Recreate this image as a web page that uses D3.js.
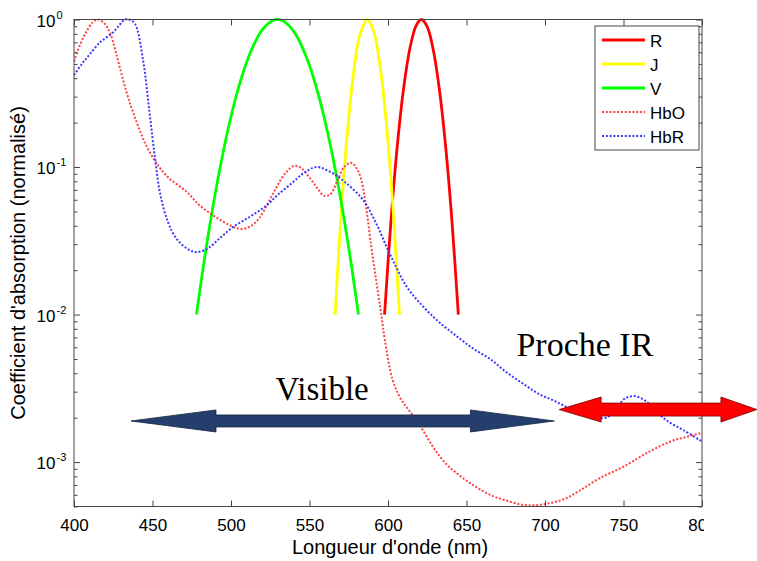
<!DOCTYPE html>
<html><head><meta charset="utf-8">
<script src="https://cdn.jsdelivr.net/npm/d3@7"></script>
<style>body{margin:0;background:#fff}svg{display:block}</style>
</head><body><svg id="c" width="757" height="561"></svg>
<script>
// ---------- data ----------
const wavelengthTicks = [400, 450, 500, 550, 600, 650, 700, 750, 800];
const decadeTicks = [1e-3, 1e-2, 1e-1, 1];
const decadeExponents = ["-3", "-2", "-1", "0"];
const seriesNames = ["R", "J", "V", "HbO", "HbR"];

const R = [[597.8,0.01],[602,0.0448],[606,0.142],[610,0.345],[614,0.641],[618,0.913],[621.3,1.0],[625,0.892],[629,0.61],[633,0.319],[637,0.128],[641,0.0393],[644.8,0.01]];
const J = [[566.3,0.01],[570,0.0454],[574,0.166],[578,0.428],[582,0.777],[586.8,1.0],[591,0.824],[595,0.479],[599,0.196],[603,0.0564],[607.3,0.01]];
const V = [[478,0.01],[485,0.0321],[492,0.0867],[499,0.198],[506,0.382],[513,0.621],[520,0.853],[527,0.988],[530,1.0],[534,0.967],[541,0.799],[548,0.557],[555,0.328],[562,0.163],[569,0.0683],[575,0.0283],[581.2,0.01]];
const HbO = [[400,0.52],[404,0.68],[408,0.83],[412,0.96],[415,1.0],[419,0.95],[423,0.81],[427,0.58],[433.5,0.32],[440,0.2],[446,0.14],[452.6,0.106],[460,0.085],[471.7,0.068],[480,0.055],[490,0.046],[500,0.04],[507,0.038],[513,0.04],[518,0.045],[524,0.058],[529,0.073],[535,0.092],[540.5,0.102],[545,0.098],[550,0.085],[555,0.072],[559,0.064],[563,0.065],[568,0.082],[572,0.1],[576.5,0.107],[580,0.098],[583,0.082],[586,0.054],[589.3,0.029],[592.5,0.017],[595.6,0.0102],[598,0.0067],[603,0.0036],[608,0.0027],[614,0.0022],[620,0.0018],[628,0.0013],[636,0.001],[645,0.00082],[655,0.00069],[665,0.0006],[675,0.00055],[688,0.00051],[700,0.00052],[712,0.00056],[722,0.00064],[735,0.00078],[750,0.00093],[766,0.00117],[780,0.00138],[790,0.00148],[800,0.00158]];
const HbR = [[400,0.42],[405,0.5],[410,0.58],[416.5,0.7],[421,0.76],[425,0.82],[429,0.92],[432.4,1.0],[436,0.99],[439,0.93],[444,0.53],[448,0.24],[451.5,0.117],[455,0.065],[460,0.042],[465,0.033],[472,0.028],[478,0.0265],[485,0.028],[493,0.033],[501,0.039],[512,0.046],[522.7,0.055],[530,0.065],[539.5,0.079],[547,0.092],[554.5,0.1],[563,0.093],[572,0.08],[584,0.06],[592.5,0.0414],[601,0.026],[612,0.0154],[622.5,0.0113],[633,0.0088],[644,0.0071],[654,0.0059],[665,0.005],[675,0.0041],[686,0.0034],[696,0.0029],[706,0.0026],[716,0.0023],[726,0.0021],[739,0.002],[745,0.0023],[751,0.0027],[757,0.0028],[764,0.0026],[771,0.0022],[778,0.0019],[788,0.00165],[800,0.00138]];

// annotation arrows in data units: [from nm, to nm, level]
const visibleArrow = [436.3, 706, 0.0019];
const irArrow = [709, 835, 0.00227];
const visibleLabel = [558, 0.00263, "Visible"];
const irLabel = [725.4, 0.00523, "Proche IR"];

// ---------- layout ----------
const W = 757, H = 561;
const plot = {left: 74, right: 702, top: 19.5, bottom: 506.5};
const svg = d3.select("#c");
svg.append("rect").attr("width", W).attr("height", H).attr("fill", "#fff");

const x = d3.scaleLinear().domain([400, 800]).range([plot.left, plot.right]);
const y = d3.scaleLog().domain([5e-4, 1]).range([plot.bottom, plot.top]);

const defs = svg.append("defs");
defs.append("clipPath").attr("id", "figclip").append("rect").attr("x", 0).attr("y", 0).attr("width", 704).attr("height", H);
defs.append("clipPath").attr("id", "plotclip").append("rect")
  .attr("x", plot.left).attr("y", plot.top - 2).attr("width", plot.right - plot.left).attr("height", plot.bottom - plot.top + 2);

const fig = svg.append("g").attr("clip-path", "url(#figclip)");
const axisColor = "#444";
const sans = "'Liberation Sans', Arial, Helvetica, sans-serif";

// curves
const colors = {R: "#ff0000", J: "#ffff00", V: "#00ff00", HbO: "#ff4040", HbR: "#3a3aff"};
const dataBy = {R, J, V, HbO, HbR};
const line = d3.line().x(d => x(d[0])).y(d => y(d[1])).curve(d3.curveCatmullRom.alpha(0.5));
const curves = fig.append("g").attr("clip-path", "url(#plotclip)");
seriesNames.forEach(n => {
  const dotted = (n === "HbO" || n === "HbR");
  curves.append("path").datum(dataBy[n])
    .attr("d", line).attr("fill", "none")
    .attr("stroke", colors[n])
    .attr("stroke-width", dotted ? 2 : 2.8)
    .attr("stroke-dasharray", dotted ? "2,1.8" : null)
    .attr("stroke-linejoin", "round");
});

// axes
function styleAxis(g) {
  g.select(".domain").remove();
  g.selectAll("line").attr("stroke", axisColor);
}
const minorTicks = [];
[1e-4, 1e-3, 1e-2, 1e-1].forEach(d => { for (let k = 2; k <= 9; k++) { const v = d * k; if (v >= 5e-4 && v < 1) minorTicks.push(v); } });

fig.append("g").attr("transform", `translate(0,${plot.bottom})`)
  .call(d3.axisBottom(x).tickValues(wavelengthTicks).tickSizeInner(-6).tickSizeOuter(0).tickPadding(12).tickFormat(d3.format("d")))
  .call(styleAxis)
  .call(g => g.selectAll("text").attr("font-family", sans).attr("font-size", 17).attr("fill", "#000"));
fig.append("g").attr("transform", `translate(0,${plot.top})`)
  .call(d3.axisTop(x).tickValues(wavelengthTicks).tickSizeInner(-6).tickSizeOuter(0).tickFormat(""))
  .call(styleAxis);
fig.append("g").attr("transform", `translate(${plot.left},0)`)
  .call(d3.axisLeft(y).tickValues(decadeTicks).tickSizeInner(-6).tickSizeOuter(0).tickFormat(""))
  .call(styleAxis);
fig.append("g").attr("transform", `translate(${plot.left},0)`)
  .call(d3.axisLeft(y).tickValues(minorTicks).tickSizeInner(-3.5).tickSizeOuter(0).tickFormat(""))
  .call(styleAxis);
fig.append("g").attr("transform", `translate(${plot.right},0)`)
  .call(d3.axisRight(y).tickValues(decadeTicks).tickSizeInner(-6).tickSizeOuter(0).tickFormat(""))
  .call(styleAxis);
fig.append("g").attr("transform", `translate(${plot.right},0)`)
  .call(d3.axisRight(y).tickValues(minorTicks).tickSizeInner(-3.5).tickSizeOuter(0).tickFormat(""))
  .call(styleAxis);

// frame
fig.append("rect").attr("x", plot.left).attr("y", plot.top)
  .attr("width", plot.right - plot.left).attr("height", plot.bottom - plot.top)
  .attr("fill", "none").attr("stroke", axisColor).attr("stroke-width", 1);

// y tick labels with superscripts
decadeTicks.forEach((v, i) => {
  fig.append("text").attr("font-family", sans).attr("fill", "#000").attr("font-size", 17)
    .attr("x", 55.5).attr("y", y(v) + 7).attr("text-anchor", "end").text("10");
  fig.append("text").attr("font-family", sans).attr("fill", "#000").attr("font-size", 11)
    .attr("x", 56.5).attr("y", y(v) - 1).text(decadeExponents[i]);
});

// axis titles
fig.append("text").attr("x", (plot.left + plot.right) / 2 + 2).attr("y", 554)
  .attr("text-anchor", "middle").attr("font-family", sans).attr("font-size", 20).text("Longueur d'onde (nm)");
fig.append("text").attr("transform", `translate(25,${(plot.top + plot.bottom) / 2}) rotate(-90)`)
  .attr("text-anchor", "middle").attr("font-family", sans).attr("font-size", 20).text("Coefficient d'absorption (normalisé)");

// legend
const lg = fig.append("g").attr("transform", "translate(595,26)");
lg.append("rect").attr("width", 104).attr("height", 124).attr("fill", "#fff").attr("stroke", axisColor);
seriesNames.forEach((n, i) => {
  const ry = 14 + i * 24;
  const dotted = (n === "HbO" || n === "HbR");
  lg.append("line").attr("x1", 7).attr("x2", 50).attr("y1", ry).attr("y2", ry)
    .attr("stroke", colors[n]).attr("stroke-width", dotted ? 2 : 2.8)
    .attr("stroke-dasharray", dotted ? "2,1.8" : null);
  lg.append("text").attr("x", 55).attr("y", ry + 6.5).attr("font-family", sans).attr("font-size", 17).text(n);
});

// ---------- overlays ----------
function arrowPath(x0, x1, yc, head0, head1, hh, sh) {
  return `M${x0},${yc} L${x0 + head0},${yc - hh} L${x0 + head0},${yc - sh} L${x1 - head1},${yc - sh} L${x1 - head1},${yc - hh} L${x1},${yc} L${x1 - head1},${yc + hh} L${x1 - head1},${yc + sh} L${x0 + head0},${yc + sh} L${x0 + head0},${yc + hh} Z`;
}
svg.append("path").attr("d", arrowPath(x(visibleArrow[0]), x(visibleArrow[1]), y(visibleArrow[2]), 85, 84, 11, 6))
  .attr("fill", "#243f6e").attr("stroke", "#15233d").attr("stroke-width", 0.8);
svg.append("path").attr("d", arrowPath(x(irArrow[0]), x(irArrow[1]), y(irArrow[2]), 42, 36, 12.5, 6.5))
  .attr("fill", "#ff0000").attr("stroke", "#7a0000").attr("stroke-width", 0.8);

const serif = "'Liberation Serif', 'Times New Roman', serif";
svg.append("text").attr("x", x(visibleLabel[0])).attr("y", y(visibleLabel[1])).attr("font-family", serif)
  .attr("font-size", 33).attr("text-anchor", "middle").text(visibleLabel[2]);
svg.append("text").attr("x", x(irLabel[0])).attr("y", y(irLabel[1])).attr("font-family", serif)
  .attr("font-size", 34).attr("text-anchor", "middle").text(irLabel[2]);
</script></body></html>
